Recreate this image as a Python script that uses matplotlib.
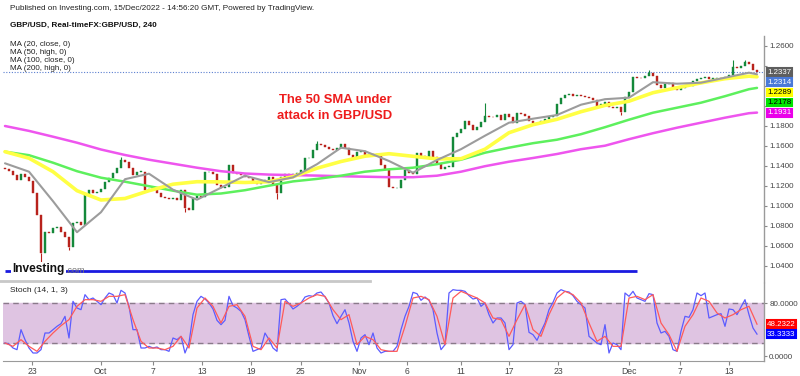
import matplotlib
matplotlib.use("Agg")
import matplotlib.pyplot as plt
import numpy as np
from matplotlib.lines import Line2D

plt.rcParams['font.family'] = ['Liberation Sans', 'DejaVu Sans']

# ---------------- data (8-hour candles) ----------------
first_open = 1.1380
closes = [
    1.1364, 1.1350, 1.1310, 1.1257, 1.1317, 1.1290, 1.1250, 1.1124, 1.0907, 1.0523,
    1.0740, 1.0724, 1.0774, 1.0790, 1.0740, 1.0690, 1.0590, 1.0824, 1.0840, 1.0807,
    1.1107, 1.1157, 1.1124, 1.1140, 1.1170, 1.1240, 1.1274, 1.1324, 1.1374, 1.1457,
    1.1440, 1.1374, 1.1307, 1.1340, 1.1340, 1.1157, 1.1164, 1.1174, 1.1124, 1.1084,
    1.1074, 1.1064, 1.1074, 1.1057, 1.1157, 1.0980, 1.0960, 1.1074, 1.1097, 1.1090,
    1.1334, 1.1340, 1.1314, 1.1207, 1.1180, 1.1190, 1.1407, 1.1324, 1.1314, 1.1307,
    1.1290, 1.1280, 1.1234, 1.1214, 1.1234, 1.1257, 1.1290, 1.1207, 1.1124, 1.1290,
    1.1314, 1.1307, 1.1314, 1.1324, 1.1357, 1.1474, 1.1480, 1.1557, 1.1614, 1.1607,
    1.1590, 1.1567, 1.1557, 1.1580, 1.1614, 1.1574, 1.1507, 1.1474, 1.1534, 1.1547,
    1.1507, 1.1514, 1.1497, 1.1514, 1.1407, 1.1357, 1.1190, 1.1174, 1.1180, 1.1257,
    1.1357, 1.1330, 1.1317, 1.1530, 1.1497, 1.1474, 1.1550, 1.1484, 1.1417, 1.1364,
    1.1384, 1.1390, 1.1690, 1.1724, 1.1764, 1.1850, 1.1807, 1.1757, 1.1790, 1.1840,
    1.1897, 1.1890, 1.1884, 1.1907, 1.1857, 1.1917, 1.1890, 1.1824, 1.1924, 1.1914,
    1.1897, 1.1850, 1.1824, 1.1830, 1.1850, 1.1864, 1.1884, 1.1897, 1.2017, 1.2074,
    1.2107, 1.2117, 1.2097, 1.2107, 1.2097, 1.2084, 1.2074, 1.2060, 1.1985, 1.2014,
    1.2034, 1.1990, 1.1974, 1.1990, 1.1940, 1.2090, 1.2134, 1.2290, 1.2280, 1.2274,
    1.2300, 1.2324, 1.2300, 1.2207, 1.2180, 1.2214, 1.2224, 1.2174, 1.2154, 1.2180,
    1.2200, 1.2200, 1.2247, 1.2264, 1.2274, 1.2287, 1.2267, 1.2267, 1.2280, 1.2274,
    1.2287, 1.2307, 1.2390, 1.2374, 1.2400, 1.2434, 1.2414, 1.2357, 1.2337,
]
spike_bars = [9, 16, 29, 45, 68, 78, 120, 154, 161, 182, 185]
spike_prices = [1.0345, 1.0557, 1.1490, 1.0940, 1.1070, 1.1647, 1.2024, 1.1907,
                1.2357, 1.2457, 1.2457]

ma_bars = list(range(0, 187, 6)) + [188]
ma20 = [1.1424, 1.1340, 1.1045, 1.0735, 1.0935, 1.1265, 1.1320, 1.1160, 1.1060, 1.1180,
        1.1300, 1.1236, 1.1283, 1.1415, 1.1580, 1.1545, 1.1447, 1.1330, 1.1457, 1.1565,
        1.1700, 1.1830, 1.1870, 1.1907, 1.2010, 1.2065, 1.2080, 1.2235, 1.2220, 1.2230,
        1.2280, 1.2330, 1.2314]
ma50 = [1.1540, 1.1475, 1.1340, 1.1150, 1.1057, 1.1072, 1.1150, 1.1215, 1.1240, 1.1238,
        1.1232, 1.1240, 1.1290, 1.1375, 1.1442, 1.1495, 1.1520, 1.1494, 1.1468, 1.1470,
        1.1565, 1.1730, 1.1810, 1.1864, 1.1940, 1.2003, 1.2045, 1.2130, 1.2180, 1.2228,
        1.2270, 1.2295, 1.2289]
ma100 = [1.1540, 1.1505, 1.1430, 1.1345, 1.1280, 1.1240, 1.1195, 1.1150, 1.1110, 1.1122,
         1.1155, 1.1200, 1.1243, 1.1268, 1.1300, 1.1340, 1.1364, 1.1380, 1.1415, 1.1460,
         1.1530, 1.1580, 1.1625, 1.1660, 1.1715, 1.1785, 1.1860, 1.1930, 1.1980, 1.2030,
         1.2095, 1.2165, 1.2178]
ma200 = [1.1797, 1.1748, 1.1690, 1.1630, 1.1562, 1.1507, 1.1460, 1.1420, 1.1380, 1.1345,
         1.1322, 1.1311, 1.1306, 1.1301, 1.1295, 1.1290, 1.1285, 1.1285, 1.1300, 1.1340,
         1.1395, 1.1440, 1.1477, 1.1517, 1.1565, 1.1600, 1.1665, 1.1725, 1.1780, 1.1830,
         1.1880, 1.1925, 1.1931]

stoch_k = [
    20, 18.5, 12.5, 10, 40, 25, 12.5, 5, 5, 10,
    35, 35, 40, 45, 49, 60, 27.5, 82.5, 72.5, 70,
    92.5, 85, 87.5, 82.5, 77.5, 87.5, 95, 92.5, 80, 99,
    95, 75, 40, 40, 12.5, 12.5, 15, 12.5, 14, 10,
    10, 7.5, 27.5, 25, 30, 5, 20, 62.5, 82.5, 90,
    86, 80, 71, 54, 47.5, 54, 90, 76, 72.5, 67.5,
    55, 30, 7.5, 10, 12.5, 35, 25, 12.5, 7.5, 85,
    86, 79, 71, 75, 80, 89, 91, 90, 95, 96.5,
    89, 80, 61, 49, 60, 70, 50, 22.5, 7.5, 27.5,
    32.5, 17.5, 35, 12.5, 5, 7.5, 7.5, 7.5, 15, 40,
    60, 75, 96, 94, 84, 89, 84, 70, 35, 10,
    17.5, 95, 100, 99, 99, 97.5, 91, 86, 87.5, 75,
    80, 62.5, 50, 57.5, 57.5, 50, 10, 17.5, 80, 82.5,
    77.5, 36, 32.5, 24, 37.5, 50, 70, 81, 95, 100,
    97.5, 96.5, 91, 82.5, 77.5, 72.5, 30, 25, 20, 17.5,
    47.5, 5, 20, 17.5, 10, 95, 90, 97.5, 87.5, 85,
    82.5, 94, 92.5, 50, 35, 37.5, 30, 10, 7.5, 37.5,
    60, 58.5, 70, 95, 91, 95, 57.5, 60, 62.5, 64,
    45, 71, 70, 62.5, 74, 85, 62.5, 42.5, 33.3333,
]
stoch_d_bars = list(range(0, 189, 2))
stoch_d = [
    20, 15, 25, 15, 7.5, 22.5, 35, 46, 55, 75, 85, 85, 82.5, 90, 90, 92.5, 55, 22.5,
    12.5, 12.5, 10, 15, 30, 12.5, 72.5, 87.5, 75, 50, 75, 77.5, 60, 15, 10, 27.5,
    12.5, 82.5, 75, 80, 87.5, 92.5, 90, 70, 55, 62.5, 17.5, 30, 25, 10, 7.5,
    7.5, 45, 87.5, 90, 85, 60, 17.5, 87.5, 97.5, 92.5, 87.5, 80, 57.5, 55, 30, 55,
    77.5, 40, 30, 62.5, 87.5, 97.5, 92.5, 80, 50, 22.5, 30, 15, 15, 87.5, 90, 85,
    92.5, 50, 32.5, 7.5, 45, 62.5, 87.5, 82.5, 65, 57.5, 62.5, 70, 75, 48.2322,
]

tick_labels = ['23', 'Oct', '7', '13', '19', '25', 'Nov', '6', '11', '17', '23', 'Dec', '7', '13']
tick_bars = [6.75, 23.9, 37, 49.25, 61.6, 73.9, 88.4, 100.6, 114, 126.1, 138.25, 155.9, 168.75, 181]
price_ticks = [1.04, 1.06, 1.08, 1.10, 1.12, 1.14, 1.16, 1.18, 1.20, 1.22, 1.24, 1.26]

support_level = 1.0345
support_end_bar = 158

# ---------------- figure ----------------
W, H = 800, 376
fig = plt.figure(figsize=(W / 100, H / 100), dpi=100)
fig.patch.set_facecolor('white')


def box(x0, y0, x1, y1):
    return [x0 / W, 1 - y1 / H, (x1 - x0) / W, (y1 - y0) / H]


ax = fig.add_axes(box(3, 36, 764, 282))
ax2 = fig.add_axes(box(3, 283, 764, 361))

XL = (-0.5, 189.75)
for a in (ax, ax2):
    a.set_xlim(*XL)
    a.set_facecolor('none')
    for s in ('top', 'left', 'bottom'):
        a.spines[s].set_visible(False)
    a.spines['right'].set_color('#9a9a9a')
    a.spines['right'].set_linewidth(1)
    a.yaxis.tick_right()
    a.tick_params(axis='y', length=2.5, width=0.8, color='#888888',
                  labelsize=5.8, labelcolor='#444444', pad=1.2)

# main pane
ax.set_ylim(1.0237, 1.2697)
c = np.array(closes)
o = np.concatenate([[first_open], c[:-1]])
idx = np.arange(len(c))
up = c >= o
bot = np.minimum(o, c)
hgt = np.maximum(np.abs(c - o), 0.0008)
cols = np.where(up, '#14893a', '#b8221c')

sb = np.array(spike_bars)
sp = np.array(spike_prices)
ax.vlines(sb, c[sb], sp, colors=[cols[i] for i in sb], lw=0.8, zorder=2)
ax.bar(idx, hgt, bottom=bot, width=0.62, color=cols, edgecolor=cols, lw=0.3, zorder=2)

ax.plot(ma_bars, ma200, color='#ee55ee', lw=1.8, zorder=3, solid_capstyle='round')
ax.plot(ma_bars, ma100, color='#5df05d', lw=1.8, zorder=3, solid_capstyle='round')
ax.plot(ma_bars, ma50, color='#ffff44', lw=2.6, zorder=3, solid_capstyle='round')
ax.plot(ma_bars, ma20, color='#9c9c9c', lw=1.5, zorder=3, solid_capstyle='round')

ax.axhline(c[-1], color='#5b7fd0', lw=0.8, ls=(0, (1, 1.5)), zorder=1)
ax.hlines(support_level, 0, support_end_bar, color='#1a1ae0', lw=2, zorder=4)
ax.set_xticks([])

# stochastic pane
ax2.set_ylim(-7, 110)
ax2.axhspan(20, 80, color='#dfc4e2', zorder=0)
for lv in (20, 80):
    ax2.axhline(lv, color='#8a7a8a', lw=1, ls=(0, (4, 3)), zorder=1)
ax2.plot(idx, stoch_k, color='#5c5cff', lw=0.9, zorder=2)
ax2.plot(stoch_d_bars, stoch_d, color='#ff5a5a', lw=0.9, zorder=3)
ax2.set_yticks([0, 80])
ax2.set_yticklabels(['0.0000', '80.0000'])
ax2.spines['bottom'].set_visible(True)
ax2.spines['bottom'].set_color('#9a9a9a')
ax2.set_xticks(tick_bars)
ax2.set_xticklabels(tick_labels)
ax2.tick_params(axis='x', length=3, width=0.8, color='#888888', labelsize=6.2,
                labelcolor='#444444', pad=1.5)


# ---------------- value labels on the right ----------------
def ypix(a, v):
    return H - a.transData.transform((0, v))[1]


def stack_labels(a, items, gap=10.2):
    items = sorted(items, key=lambda t: -t[0])
    prev = -1e9
    placed = []
    for v, bg, fg in items:
        y = max(ypix(a, v), prev + gap)
        prev = y
        placed.append(y)
        fig.text(767 / W, 1 - y / H, f'{v:.4f}', fontsize=5.7, color=fg,
                 va='center', ha='left', zorder=10,
                 bbox=dict(boxstyle='square,pad=0.05', fc=bg, ec=bg, lw=1.5))
    return placed


box_y = stack_labels(ax, [(closes[-1], '#5e5e5e', 'white'),
                          (ma20[-1], '#4a7ad8', 'white'),
                          (ma50[-1], '#ffff00', 'black'),
                          (ma100[-1], '#00e400', 'black'),
                          (ma200[-1], '#ea00ea', 'white')])
stack_labels(ax2, [(stoch_d[-1], '#ff0000', 'white'),
                   (stoch_k[-1], '#0000ff', 'white')])

# price tick labels hidden where a value box sits on top of them
tick_text = []
for v in price_ticks:
    yy = ypix(ax, v)
    covered = any(abs(yy - b) < 10.5 for b in box_y)
    tick_text.append('' if covered else f'{v:.4f}')
ax.set_yticks(price_ticks)
ax.set_yticklabels(tick_text)


# ---------------- texts ----------------
def ftext(x, y, s, **kw):
    return fig.text(x / W, 1 - y / H, s, va='center', ha='left', **kw)


ftext(10, 9, 'Published on Investing.com, 15/Dec/2022 - 14:56:20 GMT, Powered by TradingView.',
      fontsize=5.9, color='#222222')
ftext(10, 25, 'GBP/USD, Real-timeFX:GBP/USD, 240', fontsize=5.9, weight='bold', color='#111111')
for k, s in enumerate(['MA (20, close, 0)', 'MA (50, high, 0)', 'MA (100, close, 0)',
                       'MA (200, high, 0)']):
    ftext(10, 45 + 8 * k, s, fontsize=5.8, color='#222222')

fig.text(335 / W, 1 - 100 / H, 'The 50 SMA under', fontsize=9.4, weight='bold',
         color='#ee1c1c', ha='center', va='center')
fig.text(335 / W, 1 - 116 / H, 'attack in GBP/USD', fontsize=9.4, weight='bold',
         color='#ee1c1c', ha='center', va='center')

ftext(10, 290, 'Stoch (14, 1, 3)', fontsize=6, color='#222222')

logo = fig.text(12 / W, 1 - 272 / H, 'Investing', fontsize=8.6, weight='bold',
                color='#111111', ha='left', va='baseline', zorder=6,
                bbox=dict(boxstyle='square,pad=0.1', fc='white', ec='none'))
ax.annotate('.com', xy=(1, 0), xycoords=logo, xytext=(0.5, 0), textcoords='offset points',
            fontsize=6.5, color='#777777', va='bottom', ha='left', zorder=6,
            annotation_clip=False)

fig.add_artist(Line2D([0, 370 / W], [1 - 281 / H] * 2, color='#c8c8c8', lw=2))

fig.savefig('out.png', dpi=100, facecolor='white')
